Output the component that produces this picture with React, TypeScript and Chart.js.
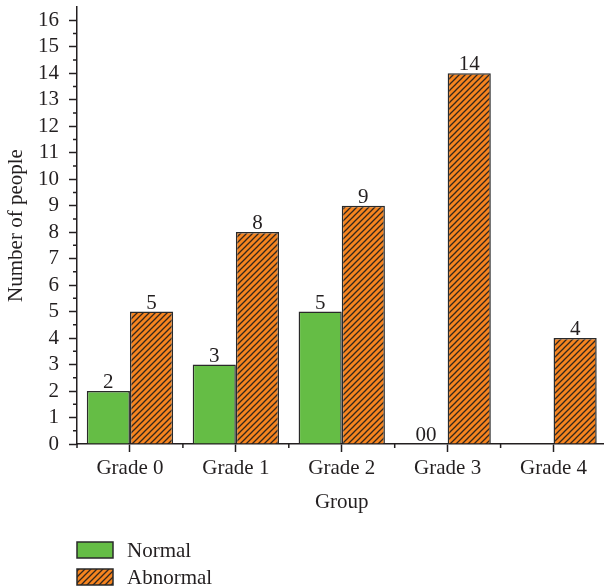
import React, { useEffect, useRef } from "react";
import { Chart, registerables } from "chart.js";
Chart.register(...registerables);

const categories = ["Grade 0", "Grade 1", "Grade 2", "Grade 3", "Grade 4"];
const normalValues = [2, 3, 5, 0, 0];
const abnormalValues = [5, 8, 9, 14, 4];
const normalLabels = ["2", "3", "5", "00", ""];
const abnormalLabels = ["5", "8", "9", "14", "4"];
const seriesNames = ["Normal", "Abnormal"];
const yMin = 0;
const yMax = 16.5;
const yTitle = "Number of people";
const xTitle = "Group";

const FONT = "'Liberation Serif', 'Times New Roman', serif";
const FS = 21;
const TEXT = "#231f20";
const AXIS = "#231f20";
const GREEN = "#65bd45";
const ORANGE = "#f6841f";
const EDGE = "#2a2a2a";

function makeHatch(): CanvasPattern | string {
  const s = 6;
  const c = document.createElement("canvas");
  c.width = s;
  c.height = s;
  const g = c.getContext("2d");
  if (!g) return ORANGE;
  g.fillStyle = ORANGE;
  g.fillRect(0, 0, s, s);
  g.strokeStyle = "#33261c";
  g.lineWidth = 1.3;
  g.beginPath();
  g.moveTo(-1, s + 1);
  g.lineTo(s + 1, -1);
  g.moveTo(-1, 1);
  g.lineTo(1, -1);
  g.moveTo(s - 1, s + 1);
  g.lineTo(s + 1, s - 1);
  g.stroke();
  return g.createPattern(c, "repeat") || ORANGE;
}

export default function App() {
  const ref = useRef<HTMLCanvasElement | null>(null);
  useEffect(() => {
    if (!ref.current) return;
    const hatch = makeHatch();

    const minorTicks = {
      id: "minorTicks",
      afterDraw(chart: any) {
        const { ctx } = chart;
        const x = chart.scales.x;
        const y = chart.scales.y;
        ctx.save();
        ctx.strokeStyle = AXIS;
        ctx.lineWidth = 1.5;
        ctx.beginPath();
        for (let v = 0.5; v < yMax; v += 1) {
          const py = y.getPixelForValue(v);
          ctx.moveTo(y.right - 4, py);
          ctx.lineTo(y.right, py);
        }
        for (let i = 0; i <= categories.length; i++) {
          const px = x.getPixelForValue(i - 0.5);
          ctx.moveTo(px, x.top);
          ctx.lineTo(px, x.top + 4);
        }
        ctx.stroke();
        ctx.restore();
      },
    };

    const valueLabels = {
      id: "valueLabels",
      afterDatasetsDraw(chart: any) {
        const ctx = chart.ctx;
        ctx.save();
        ctx.font = `${FS}px ${FONT}`;
        ctx.fillStyle = TEXT;
        ctx.textAlign = "center";
        ctx.textBaseline = "alphabetic";
        [normalLabels, abnormalLabels].forEach((labels, di) => {
          const meta = chart.getDatasetMeta(di);
          meta.data.forEach((el: any, i: number) => {
            const t = labels[i];
            if (t) ctx.fillText(t, el.x, el.y - 3);
          });
        });
        ctx.restore();
      },
    };

    const legendPlugin = {
      id: "customLegend",
      afterDraw(chart: any) {
        const ctx = chart.ctx;
        const left = chart.chartArea.left;
        const base = chart.chartArea.bottom;
        const fills = [GREEN, hatch];
        ctx.save();
        ctx.font = `${FS}px ${FONT}`;
        ctx.textAlign = "left";
        ctx.textBaseline = "middle";
        seriesNames.forEach((name, i) => {
          const top = base + 98 + i * 27;
          ctx.fillStyle = fills[i] as any;
          ctx.fillRect(left, top, 36, 16);
          ctx.strokeStyle = EDGE;
          ctx.lineWidth = 1.5;
          ctx.strokeRect(left, top, 36, 16);
          ctx.fillStyle = TEXT;
          ctx.fillText(name, left + 50, top + 9);
        });
        ctx.restore();
      },
    };

    const chart = new Chart(ref.current, {
      type: "bar",
      data: {
        labels: categories,
        datasets: [
          {
            label: seriesNames[0],
            data: normalValues,
            backgroundColor: GREEN,
            borderColor: EDGE,
            borderWidth: 1.5,
          },
          {
            label: seriesNames[1],
            data: abnormalValues,
            backgroundColor: hatch as any,
            borderColor: EDGE,
            borderWidth: 1.5,
          },
        ],
      },
      options: {
        responsive: false,
        animation: false,
        layout: { padding: { left: 0, top: 7, right: 13.5, bottom: 71 } },
        datasets: { bar: { categoryPercentage: 0.815, barPercentage: 1 } } as any,
        plugins: {
          legend: { display: false },
          tooltip: { enabled: false },
        },
        scales: {
          x: {
            offset: true,
            grid: {
              offset: false,
              drawOnChartArea: false,
              drawTicks: true,
              tickLength: 8,
              tickColor: AXIS,
              tickWidth: 1.5,
            },
            border: { display: true, color: AXIS, width: 1.5 },
            ticks: { color: TEXT, font: { family: FONT, size: FS }, padding: 4, maxRotation: 0, autoSkip: false },
            title: {
              display: true,
              text: xTitle,
              color: TEXT,
              font: { family: FONT, size: FS },
              padding: { top: 0, bottom: 1 },
            },
            afterFit: (s: any) => {
              s.height = 72;
              s.paddingLeft = 0;
              s.paddingRight = 0;
            },
          },
          y: {
            min: yMin,
            max: yMax,
            grid: {
              drawOnChartArea: false,
              drawTicks: true,
              tickLength: 8,
              tickColor: AXIS,
              tickWidth: 1.5,
            },
            border: { display: true, color: AXIS, width: 1.5 },
            ticks: {
              stepSize: 1,
              includeBounds: false,
              autoSkip: false,
              color: TEXT,
              font: { family: FONT, size: FS },
              padding: 10,
            },
            title: {
              display: true,
              text: yTitle,
              color: TEXT,
              font: { family: FONT, size: FS },
              padding: { top: 4, bottom: 0 },
            },
            afterFit: (s: any) => {
              s.width = 77;
              s.paddingTop = 0;
              s.paddingBottom = 0;
            },
          },
        },
      },
      plugins: [minorTicks, valueLabels, legendPlugin],
    });
    return () => chart.destroy();
  }, []);

  return (
    <div
      style={{
        position: "absolute",
        left: 0,
        top: 0,
        width: 604,
        height: 587,
        overflow: "hidden",
        background: "#ffffff",
      }}
    >
      <canvas ref={ref} width={620} height={587} style={{ display: "block", width: 620, height: 587 }} />
    </div>
  );
}
